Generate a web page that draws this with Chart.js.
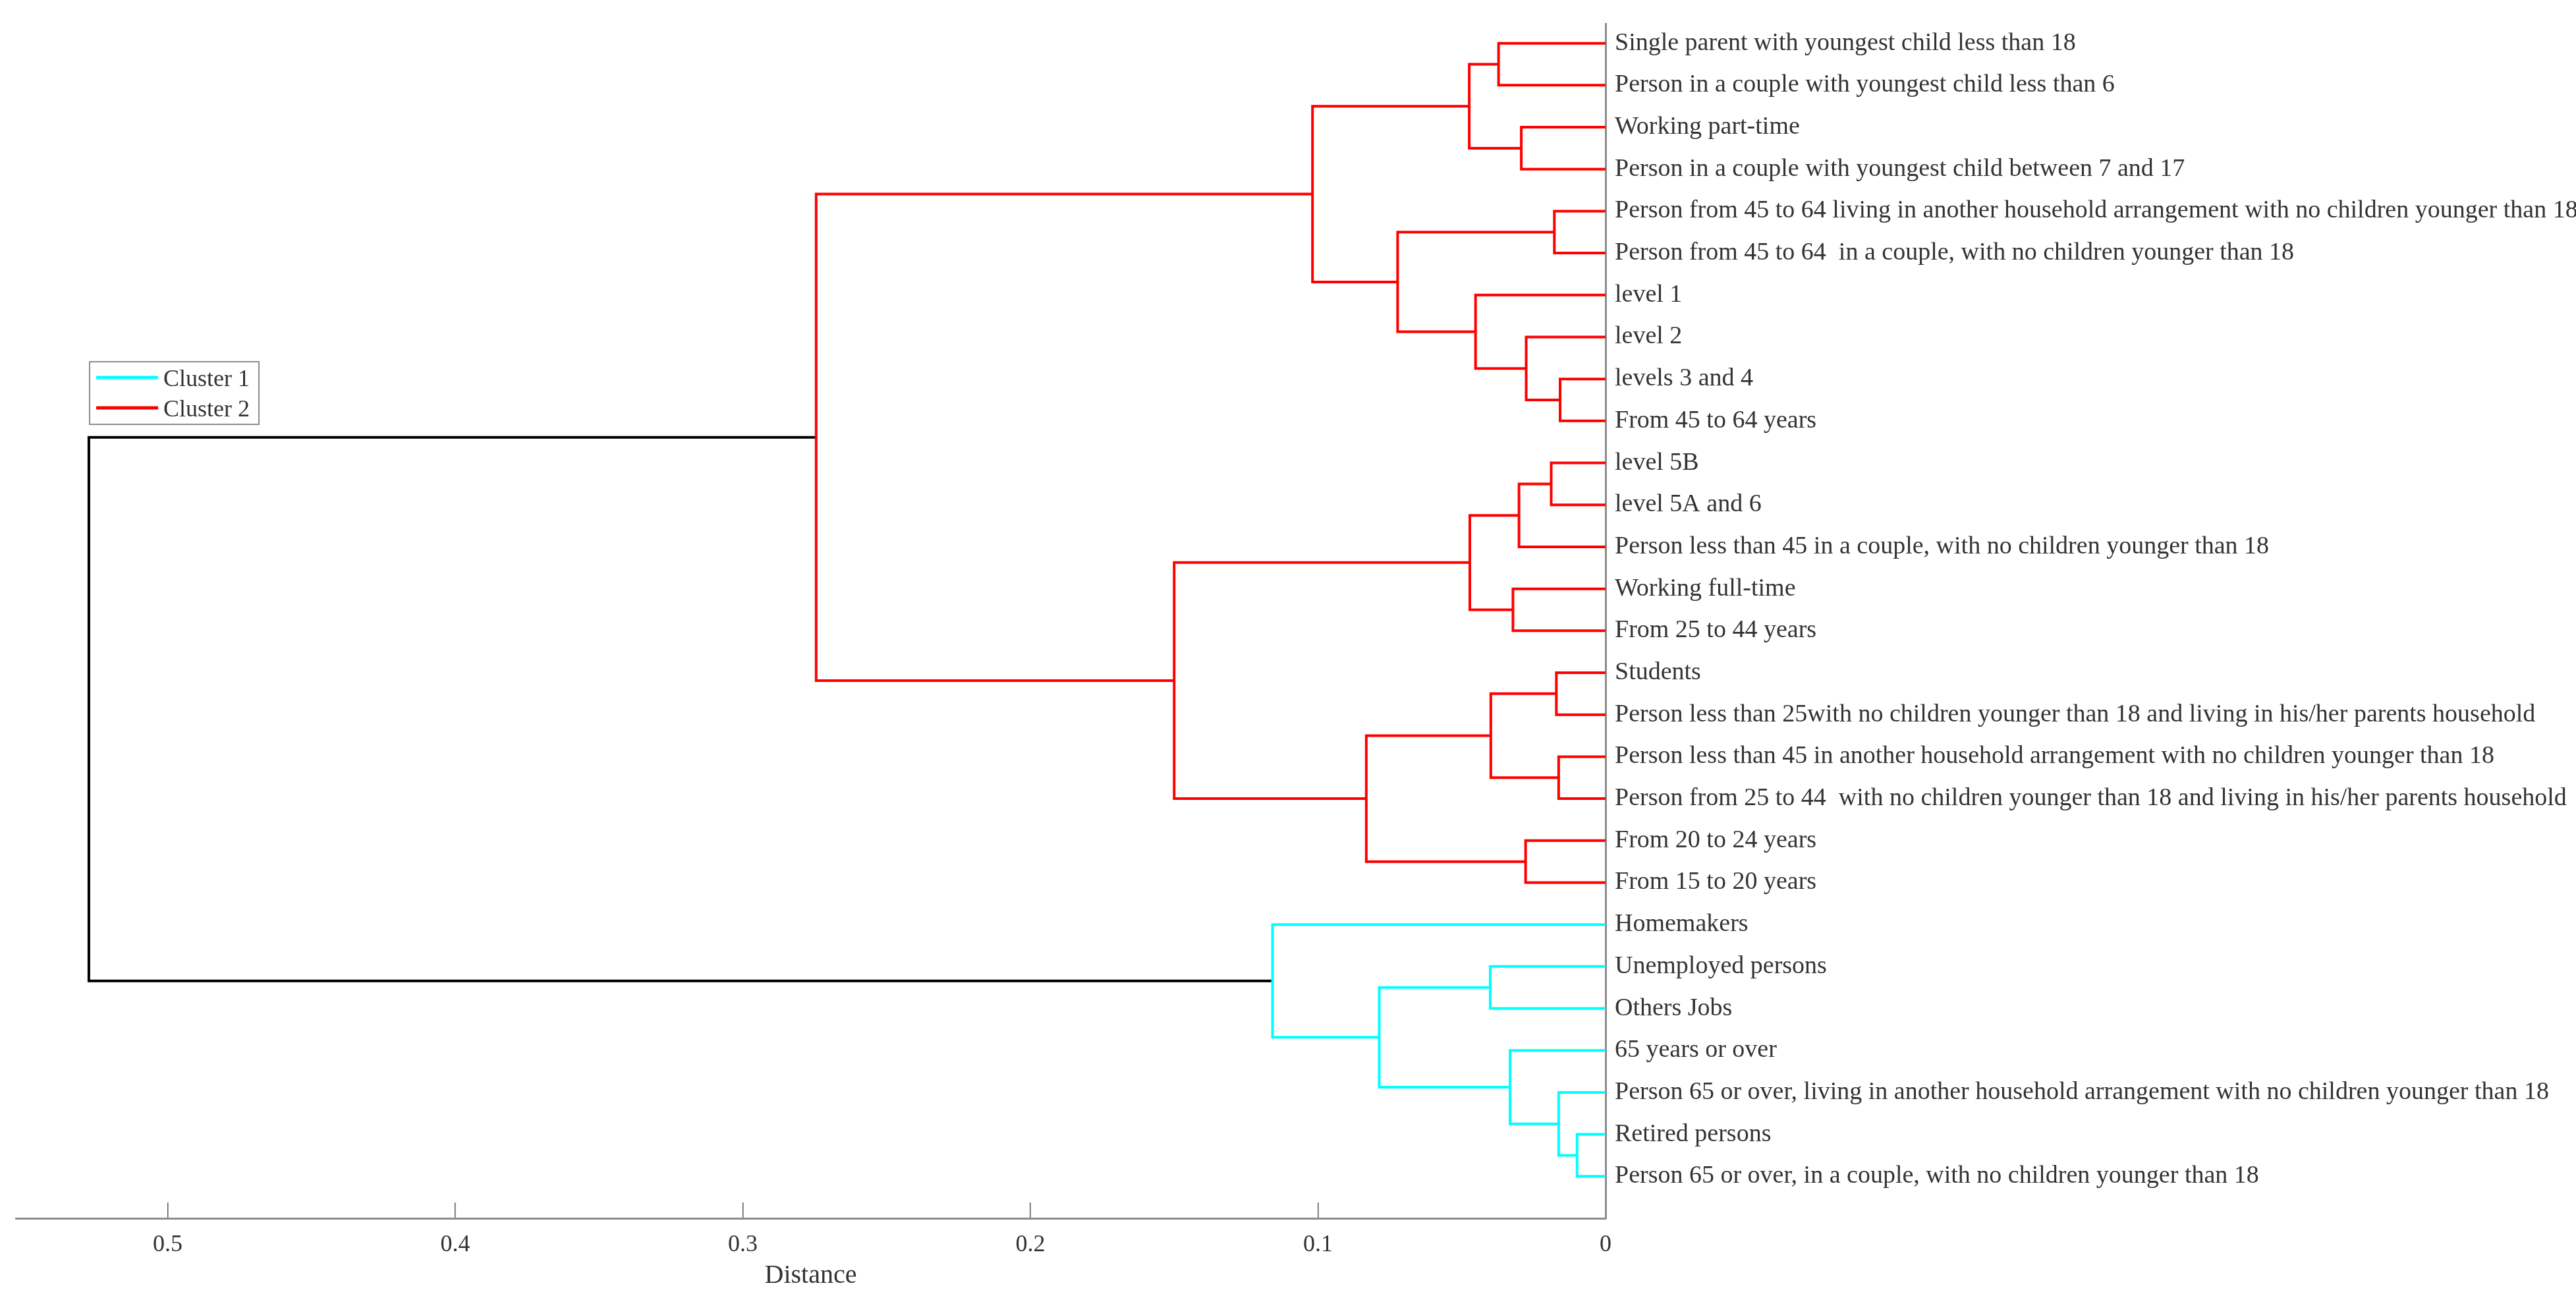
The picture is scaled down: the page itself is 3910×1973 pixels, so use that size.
<!DOCTYPE html>
<html>
<head>
<meta charset="utf-8">
<script src="https://cdn.jsdelivr.net/npm/chart.js@4.4.0/dist/chart.umd.min.js"></script>
<style>
  html, body { margin: 0; padding: 0; background: #fff; }
  #wrap { width: 3910px; height: 1973px; }
</style>
</head>
<body>
<div id="wrap"><canvas id="dendro" width="3910" height="1973"></canvas></div>
<script>
// leaves, top to bottom
const leafLabels = [
  "Single parent with youngest child less than 18",
  "Person in a couple with youngest child less than 6",
  "Working part-time",
  "Person in a couple with youngest child between 7 and 17",
  "Person from 45 to 64 living in another household arrangement with no children younger than 18",
  "Person from 45 to 64  in a couple, with no children younger than 18",
  "level 1",
  "level 2",
  "levels 3 and 4",
  "From 45 to 64 years",
  "level 5B",
  "level 5A and 6",
  "Person less than 45 in a couple, with no children younger than 18",
  "Working full-time",
  "From 25 to 44 years",
  "Students",
  "Person less than 25with no children younger than 18 and living in his/her parents household",
  "Person less than 45 in another household arrangement with no children younger than 18",
  "Person from 25 to 44  with no children younger than 18 and living in his/her parents household",
  "From 20 to 24 years",
  "From 15 to 20 years",
  "Homemakers",
  "Unemployed persons",
  "Others Jobs",
  "65 years or over",
  "Person 65 or over, living in another household arrangement with no children younger than 18",
  "Retired persons",
  "Person 65 or over, in a couple, with no children younger than 18"
];

// linkage: node ids 1..28 are leaves, merge k creates node 29+k
const mergeA = [27, 26, 25, 23, 32, 22,  9,  8,  7,  5, 38,  1,  3, 40, 42, 11, 44, 14, 45, 16, 18, 48, 20, 50, 47, 43, 54];
const mergeB = [28, 29, 30, 24, 31, 33, 10, 35, 36,  6, 37,  2,  4, 41, 39, 12, 13, 15, 46, 17, 19, 49, 21, 51, 52, 53, 34];
const mergeDist = [0.0099, 0.0163, 0.0332, 0.0401, 0.0787, 0.1158,
                   0.0158, 0.0276, 0.0452, 0.0178, 0.0723, 0.0372, 0.0293, 0.0474, 0.1019,
                   0.0189, 0.0301, 0.0322, 0.0472, 0.0171, 0.0163, 0.0399, 0.0278, 0.0832, 0.150,
                   0.2745, 0.5274];
// 1 = Cluster 1, 2 = Cluster 2, 0 = link joining the two clusters
const mergeGroup = [1, 1, 1, 1, 1, 1,
                    2, 2, 2, 2, 2, 2, 2, 2, 2,
                    2, 2, 2, 2, 2, 2, 2, 2, 2, 2,
                    2, 0];

const xTickValues = [0, 0.1, 0.2, 0.3, 0.4, 0.5];
const xTickLabels = ["0", "0.1", "0.2", "0.3", "0.4", "0.5"];
const groupNames = ["", "Cluster 1", "Cluster 2"];
const groupColors = ["#000000", "#00ffff", "#ff0000"];

const serif = '"Liberation Serif", "Times New Roman", serif';
const textColor = "#333333";

// where every node sits: leaves at distance 0, y = its row
const nodeX = {}, nodeY = {};
leafLabels.forEach((l, i) => { nodeX[i + 1] = 0; nodeY[i + 1] = i + 1; });

const segs = [[], [], []];
mergeDist.forEach((d, k) => {
  const id = leafLabels.length + 1 + k;
  const a = mergeA[k], b = mergeB[k];
  nodeX[id] = d;
  nodeY[id] = (nodeY[a] + nodeY[b]) / 2;
  segs[mergeGroup[k]].push(
    { x: nodeX[a], y: nodeY[a] },
    { x: d, y: nodeY[a] },
    { x: d, y: nodeY[b] },
    { x: nodeX[b], y: nodeY[b] },
    { x: null, y: null }
  );
});

const datasets = [1, 2, 0].map(g => ({
  label: groupNames[g],
  data: segs[g],
  borderColor: groupColors[g],
  backgroundColor: groupColors[g],
  borderWidth: 4,
  showLine: true,
  pointRadius: 0,
  pointHoverRadius: 0,
  tension: 0,
  spanGaps: false,
  borderJoinStyle: "miter"
}));

// boxed legend sitting inside the plot, like the original
const clusterLegend = {
  id: "clusterLegend",
  afterDraw(chart, args, o) {
    const ctx = chart.ctx;
    const items = chart.data.datasets.filter(d => d.label);
    ctx.save();
    ctx.fillStyle = "#ffffff";
    ctx.fillRect(o.x, o.y, o.w, o.h);
    ctx.strokeStyle = "#8c8c8c";
    ctx.lineWidth = 2;
    ctx.strokeRect(o.x, o.y, o.w, o.h);
    ctx.font = "36px " + serif;
    ctx.textBaseline = "middle";
    ctx.textAlign = "left";
    items.forEach((d, i) => {
      const y = o.y + o.row0 + i * o.rowGap;
      ctx.strokeStyle = d.borderColor;
      ctx.lineWidth = 5;
      ctx.beginPath();
      ctx.moveTo(o.x + 10, y);
      ctx.lineTo(o.x + 104, y);
      ctx.stroke();
      ctx.fillStyle = textColor;
      ctx.fillText(d.label, o.x + 112, y + 4);
    });
    ctx.restore();
  }
};

new Chart(document.getElementById("dendro"), {
  type: "scatter",
  data: { datasets: datasets },
  plugins: [clusterLegend],
  options: {
    responsive: false,
    animation: false,
    devicePixelRatio: 1,
    layout: { padding: { left: 24, top: 28, right: 0, bottom: 0 } },
    plugins: {
      legend: { display: false },
      tooltip: { enabled: false },
      clusterLegend: { x: 136, y: 549, w: 257, h: 95, row0: 24, rowGap: 46 }
    },
    scales: {
      x: {
        type: "linear",
        reverse: true,
        min: 0,
        max: 0.5528,
        afterBuildTicks: s => { s.ticks = xTickValues.map(v => ({ value: v })); },
        afterFit: s => { s.height = 124; },
        grid: { display: true, drawOnChartArea: false, drawTicks: true, tickLength: -24, color: "#555555", lineWidth: 1.5 },
        border: { display: true, color: "#8c8c8c", width: 3 },
        ticks: {
          padding: 43,
          color: textColor,
          maxRotation: 0,
          autoSkip: false,
          font: { family: serif, size: 36 },
          callback: (v, i) => xTickLabels[i]
        },
        title: {
          display: true,
          text: "Distance",
          color: textColor,
          font: { family: serif, size: 40 },
          padding: { top: 0, bottom: 13 }
        }
      },
      y: {
        type: "linear",
        position: "right",
        reverse: true,
        min: 0.547,
        max: leafLabels.length + 1,
        afterBuildTicks: s => { s.ticks = leafLabels.map((l, i) => ({ value: i + 1 })); },
        afterFit: s => { s.width = 1473; },
        grid: { display: false, drawTicks: false },
        border: { display: true, color: "#8c8c8c", width: 3 },
        ticks: {
          padding: 14,
          color: textColor,
          autoSkip: false,
          font: { family: serif, size: 38 },
          callback: v => leafLabels[v - 1]
        }
      }
    }
  }
});
</script>
</body>
</html>
